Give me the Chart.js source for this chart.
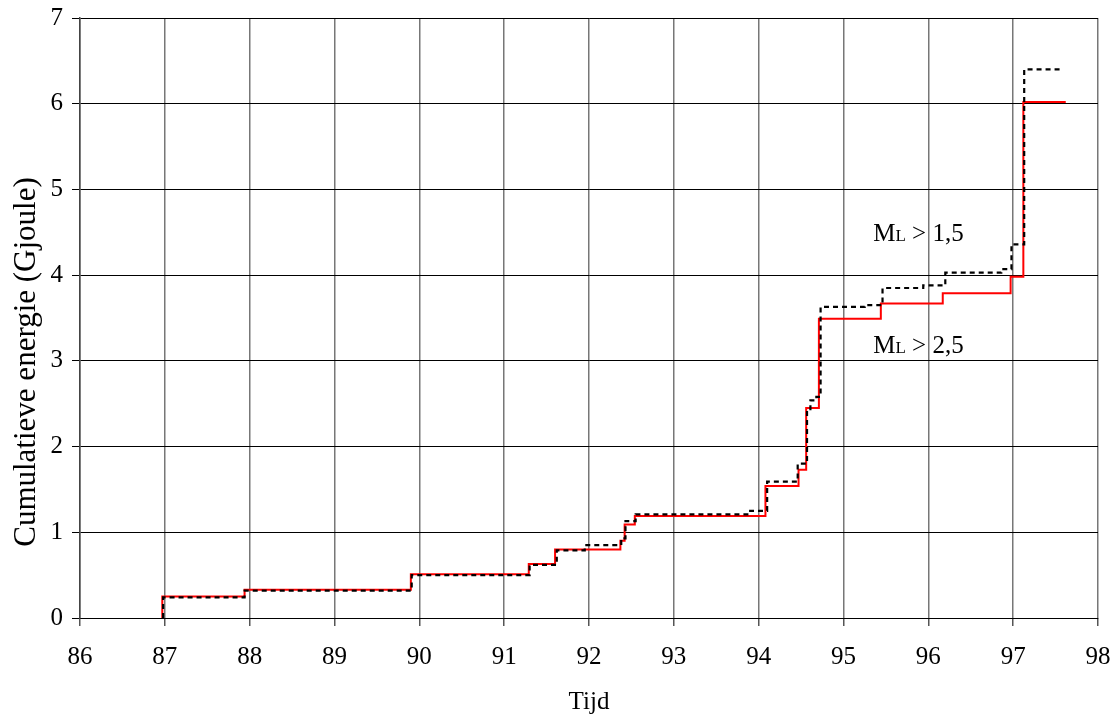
<!DOCTYPE html>
<html>
<head>
<meta charset="utf-8">
<script src="https://cdn.jsdelivr.net/npm/chart.js@4"></script>
<style>
  html, body { margin: 0; padding: 0; background: #fff; }
  #c { display: block; }
</style>
</head>
<body>
<canvas id="c" width="1114" height="717"></canvas>
<script>
// step points: [tijd, cumulatieve energie] -- each point is where the step jumps to the new level
const ml15 = [
  [86.98, 0], [86.98, 0.24], [87.94, 0.32], [89.91, 0.50], [91.30, 0.62],
  [91.62, 0.79], [91.95, 0.85], [92.38, 0.93], [92.43, 1.13], [92.55, 1.21],
  [93.90, 1.25], [94.10, 1.59], [94.46, 1.80], [94.57, 2.42], [94.61, 2.54],
  [94.68, 2.58], [94.73, 3.63], [95.25, 3.65], [95.46, 3.85], [95.94, 3.88],
  [96.20, 4.03], [96.86, 4.07], [96.98, 4.36], [97.13, 6.40], [97.55, 6.42]
];
const ml25 = [
  [86.97, 0], [86.97, 0.25], [87.94, 0.33], [89.90, 0.51], [91.29, 0.63],
  [91.60, 0.80], [92.37, 0.90], [92.42, 1.09], [92.54, 1.19], [94.08, 1.54],
  [94.47, 1.73], [94.56, 2.45], [94.71, 3.49], [95.44, 3.67], [96.17, 3.79],
  [96.97, 3.98], [97.12, 6.02], [97.62, 6.02]
];
const xTicks = [86, 87, 88, 89, 90, 91, 92, 93, 94, 95, 96, 97, 98];
const yTicks = [0, 1, 2, 3, 4, 5, 6, 7];
const labels = [
  { sub: "L", text: " > 1,5", x: 95.35, y: 4.40 },
  { sub: "L", text: " > 2,5", x: 95.35, y: 3.09 }
];
const yTitle = "Cumulatieve energie (Gjoule)";

const FONT = "'Liberation Serif', 'Times New Roman', serif";
const toXY = arr => arr.map(p => ({ x: p[0], y: p[1] }));

const annot = {
  id: "annot",
  afterDatasetsDraw(chart) {
    const { ctx, scales, chartArea } = chart;
    ctx.save();
    ctx.fillStyle = "#000";
    ctx.textBaseline = "alphabetic";
    labels.forEach(l => {
      let px = scales.x.getPixelForValue(l.x);
      const py = scales.y.getPixelForValue(l.y);
      ctx.font = "25px " + FONT;
      ctx.fillText("M", px, py);
      px += ctx.measureText("M").width;
      ctx.font = "17px " + FONT;
      ctx.fillText(l.sub, px, py);
      px += ctx.measureText(l.sub).width;
      ctx.font = "25px " + FONT;
      ctx.fillText(l.text, px, py);
    });
    // y axis title, sits a bit below the middle of the axis like the original
    ctx.translate(chartArea.left - 53, (chartArea.top + chartArea.bottom) / 2 + 44);
    ctx.rotate(-Math.PI / 2);
    ctx.font = "31px " + FONT;
    ctx.textAlign = "center";
    ctx.textBaseline = "middle";
    ctx.fillText(yTitle, 0, 0);
    ctx.restore();
  }
};

new Chart(document.getElementById("c"), {
  type: "line",
  data: {
    datasets: [
      { label: "ML > 1,5", data: toXY(ml15), borderColor: "#000", borderWidth: 2.2,
        borderDash: [5, 4], stepped: true, pointRadius: 0, fill: false },
      { label: "ML > 2,5", data: toXY(ml25), borderColor: "#ff0000", borderWidth: 2,
        stepped: true, pointRadius: 0, fill: false }
    ]
  },
  options: {
    responsive: false,
    animation: false,
    layout: { padding: { top: 18, right: 16, left: 0, bottom: 0 } },
    plugins: { legend: { display: false }, tooltip: { enabled: false } },
    scales: {
      x: {
        type: "linear", min: 86, max: 98,
        afterBuildTicks: s => { s.ticks = xTicks.map(v => ({ value: v })); },
        afterFit: s => { s.height = 99; s.paddingLeft = 0; s.paddingRight = 0; },
        ticks: { color: "#000", font: { family: FONT, size: 25 }, padding: 16, maxRotation: 0 },
        grid: { color: "#777", lineWidth: 1.5, tickLength: 8, tickColor: "#555" },
        border: { color: "#000", width: 1 },
        title: { display: true, text: "Tijd", color: "#000", font: { family: FONT, size: 25 }, padding: { top: 4, bottom: 0 } }
      },
      y: {
        min: 0, max: 7,
        afterBuildTicks: s => { s.ticks = yTicks.map(v => ({ value: v })); },
        afterFit: s => { s.width = 80; s.paddingTop = 0; s.paddingBottom = 0; },
        ticks: { color: "#000", font: { family: FONT, size: 25 }, padding: 9 },
        grid: { color: "#000", lineWidth: 1, tickLength: 8, tickColor: "#000" },
        border: { color: "#444", width: 1.5 }
      }
    }
  },
  plugins: [annot]
});
</script>
</body>
</html>
